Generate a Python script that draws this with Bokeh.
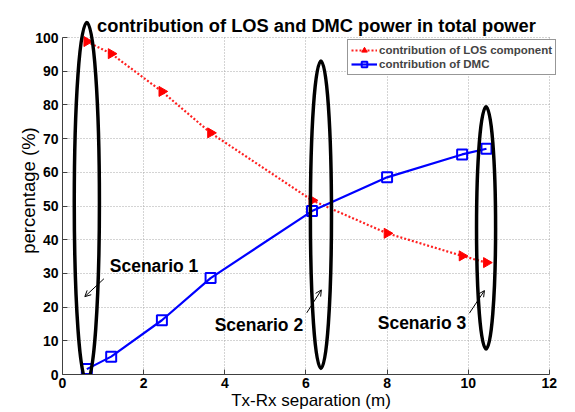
import numpy as np
from bokeh.plotting import figure
from bokeh.models import (Legend, LegendItem, Label, LabelSet, Arrow, OpenHead,
                          FixedTicker, Range1d, ColumnDataSource)
from bokeh.core.properties import value
from bokeh.embed import file_html
from bokeh.resources import INLINE

# ---- data ----
separation = [0.6, 1.2, 2.45, 3.65, 6.15, 8.0, 9.85, 10.45]
los_pct = [98.8, 95.2, 84.0, 71.7, 51.7, 41.9, 35.2, 33.2]
dmc_pct = [1.6, 5.3, 16.1, 28.6, 48.5, 58.5, 65.3, 67.0]

x_ticks = [0, 2, 4, 6, 8, 10, 12]
y_ticks = [0, 10, 20, 30, 40, 50, 60, 70, 80, 90, 100]

scenario_names = ["Scenario 1", "Scenario 2", "Scenario 3"]
scenario_text_x = [1.165, 3.75, 7.77]
scenario_text_y = [32.2, 14.8, 15.4]
ellipse_cx = [0.6, 6.37, 10.44]
ellipse_cy = [51.2, 47.4, 43.5]
ellipse_w = [0.62, 0.52, 0.47]
ellipse_h = [106.6, 91.2, 72.0]
arrow_x0 = [1.02, 6.02, 10.03]
arrow_y0 = [28.4, 18.3, 18.2]
arrow_x1 = [0.55, 6.38, 10.40]
arrow_y1 = [23.1, 25.1, 24.9]

title_text = "contribution of LOS and DMC power in total power"

FONT = "Liberation Sans"

p = figure(width=575, height=412, x_range=Range1d(0, 12.25), y_range=Range1d(0, 109.2),
           output_backend="svg", toolbar_location=None, title=None,
           min_border_left=62, min_border_right=16, min_border_top=6, min_border_bottom=37)

p.outline_line_color = None
p.background_fill_color = "white"

for ax in (p.xaxis[0], p.yaxis[0]):
    ax.major_tick_in = 5
    ax.major_tick_out = 0
    ax.minor_tick_line_color = None
    ax.axis_line_color = "#404040"
    ax.major_tick_line_color = "#404040"
    ax.major_label_text_font = FONT
    ax.major_label_text_font_size = "14px"
    ax.major_label_text_font_style = "bold"
    ax.major_label_text_color = "black"
    ax.axis_label_text_font = FONT
    ax.axis_label_text_font_style = "normal"
    ax.axis_label_text_color = "black"

p.xaxis[0].ticker = FixedTicker(ticks=x_ticks)
p.yaxis[0].ticker = FixedTicker(ticks=y_ticks)
p.xaxis[0].bounds = (x_ticks[0], x_ticks[-1])
p.yaxis[0].bounds = (y_ticks[0], y_ticks[-1])
p.xaxis[0].major_label_standoff = 3
p.yaxis[0].major_label_standoff = 4
p.xaxis[0].axis_label = "Tx-Rx separation (m)"
p.xaxis[0].axis_label_text_font_size = "17px"
p.xaxis[0].axis_label_standoff = 0
p.yaxis[0].axis_label = "percentage (%)"
p.yaxis[0].axis_label_text_font_size = "18.5px"
p.yaxis[0].axis_label_standoff = -7

for g in (p.xgrid[0], p.ygrid[0]):
    g.grid_line_color = "#a8a8a8"
    g.grid_line_dash = "1 2"
    g.grid_line_width = 1
p.xgrid[0].cross_bounds = (y_ticks[0], y_ticks[-1])
p.ygrid[0].cross_bounds = (x_ticks[0], x_ticks[-1])

# title placed just above the axes box
p.add_layout(Label(x=6.26, y=103.55, text=title_text, text_font=FONT,
                   text_font_size="18.3px", text_font_style="bold",
                   text_align="center", text_baseline="alphabetic", text_color="black"))

src = ColumnDataSource(dict(x=separation, los=los_pct, dmc=dmc_pct))

los_line = p.line("x", "los", source=src, line_color="#ff2020", line_width=2.2,
                  line_dash="2 2")
los_mark = p.scatter("x", "los", source=src, marker="triangle", size=10,
                     angle=-np.pi / 2, fill_color="red", line_color="red")
dmc_line = p.line("x", "dmc", source=src, line_color="blue", line_width=2.2)
dmc_mark = p.scatter("x", "dmc", source=src, marker="square", size=10,
                     fill_color=None, line_color="blue", line_width=2)

# scenario ellipses
ell = ColumnDataSource(dict(x=ellipse_cx, y=ellipse_cy, w=ellipse_w, h=ellipse_h))
p.ellipse(x="x", y="y", width="w", height="h", source=ell, fill_color=None,
          line_color="black", line_width=3.5)

arrows = ColumnDataSource(dict(x0=arrow_x0, y0=arrow_y0, x1=arrow_x1, y1=arrow_y1))
p.add_layout(Arrow(end=OpenHead(size=6, line_width=1, line_color="black"),
                   x_start="x0", y_start="y0", x_end="x1", y_end="y1",
                   source=arrows, line_width=1, line_color="black"))

lbl = ColumnDataSource(dict(x=scenario_text_x, y=scenario_text_y, t=scenario_names))
p.add_layout(LabelSet(x="x", y="y", text="t", source=lbl, text_font=value(FONT),
                      text_font_size="17.5px", text_font_style="bold",
                      text_align="left", text_baseline="middle", text_color="black"))

legend = Legend(items=[LegendItem(label="contribution of LOS component", renderers=[los_line, los_mark]),
                       LegendItem(label="contribution of DMC", renderers=[dmc_line, dmc_mark])],
                location=(285, 299), orientation="vertical")
legend.label_text_font = FONT
legend.label_text_font_size = "11.5px"
legend.label_text_font_style = "bold"
legend.glyph_width = 26
legend.glyph_height = 14
legend.label_height = 14
legend.label_standoff = 2
legend.spacing = 0
legend.padding = 3
legend.margin = 0
legend.border_line_color = "#303030"
legend.border_line_width = 1
legend.background_fill_alpha = 1
p.add_layout(legend)

open("out.html", "w").write(file_html(p, INLINE))
